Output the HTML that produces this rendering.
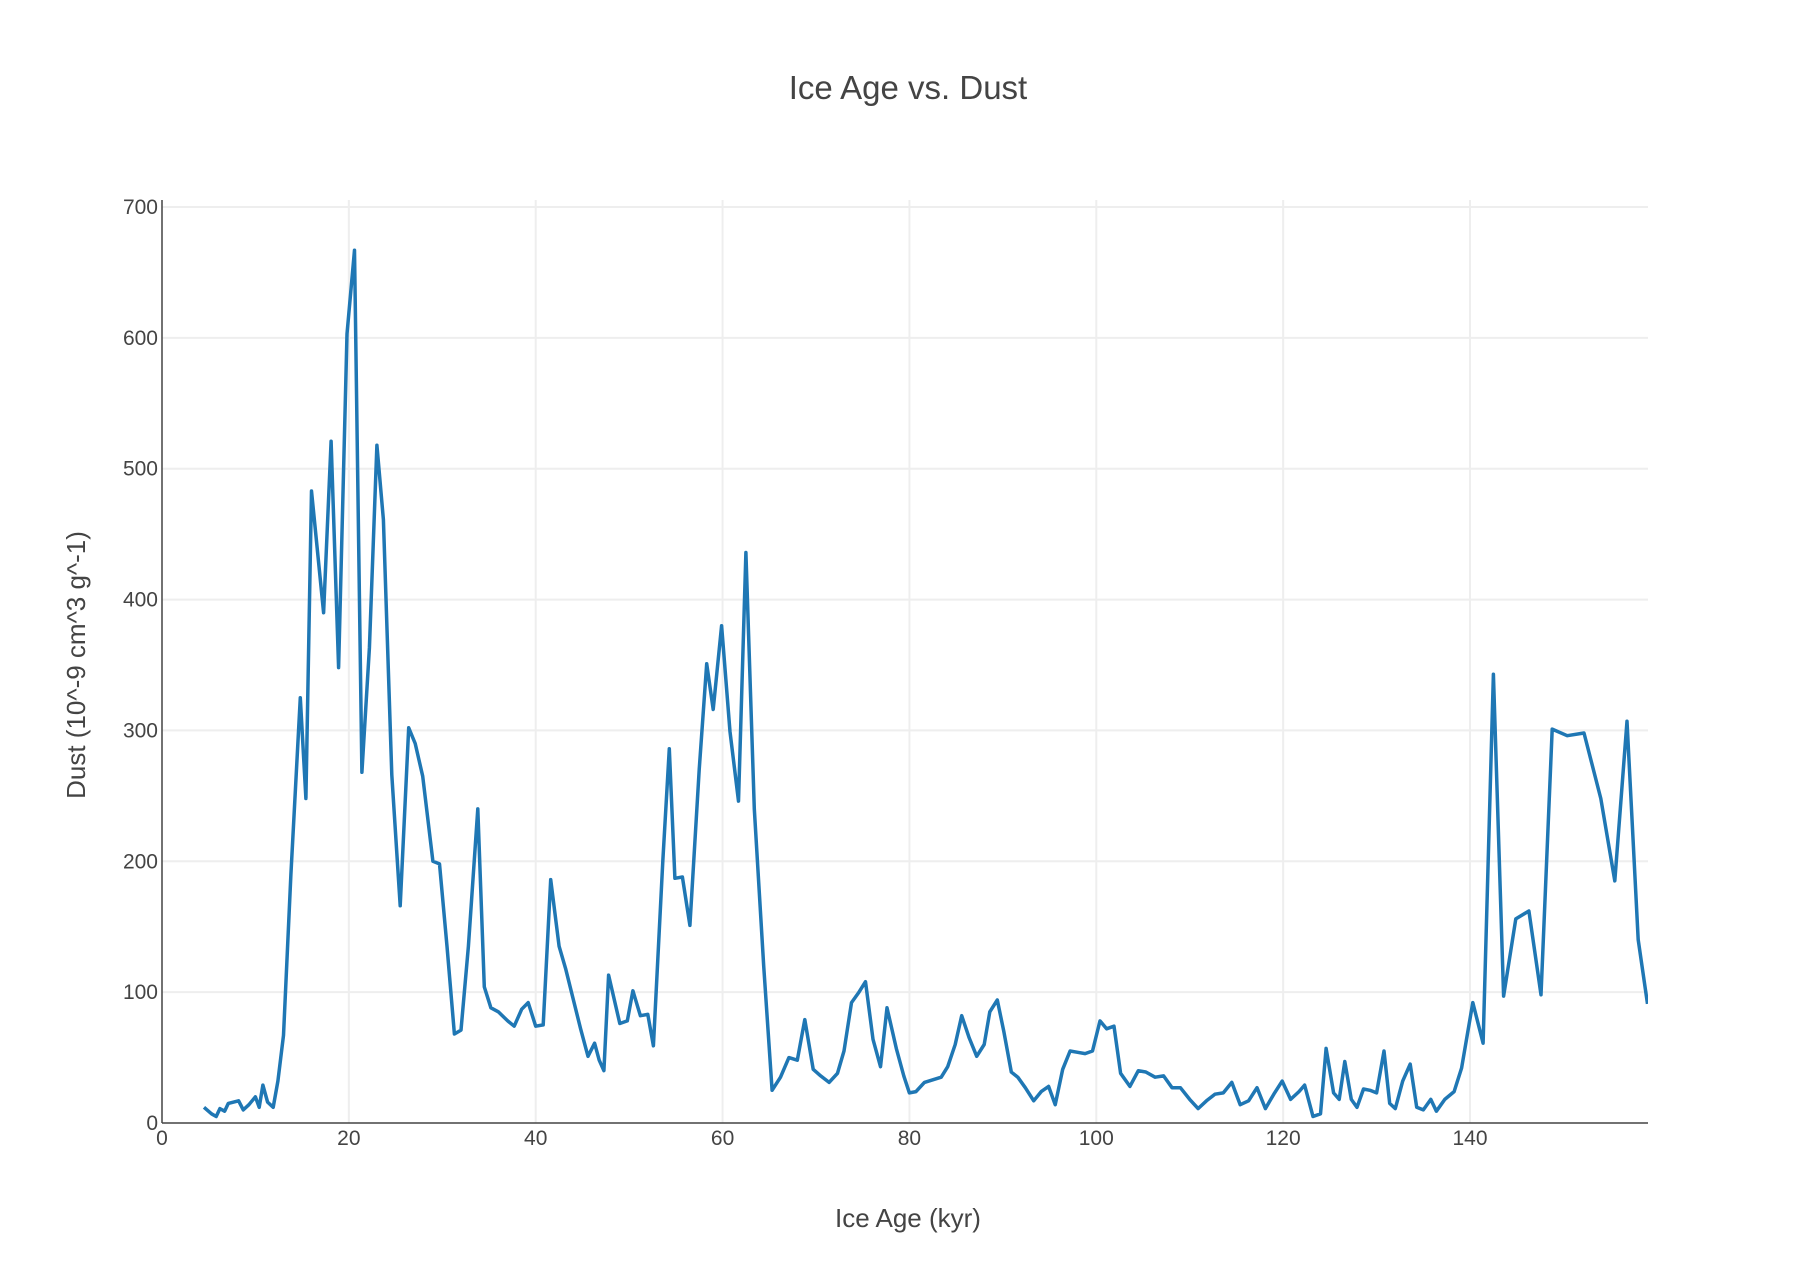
<!DOCTYPE html>
<html><head><meta charset="utf-8"><style>
body{margin:0;background:#fff;}
svg{display:block;font-family:"Liberation Sans",sans-serif;}
</style></head><body>
<svg id="chart" width="1810" height="1284">
<text x="908" y="99" text-anchor="middle" font-size="33" fill="#444">Ice Age vs. Dust</text>
<g id="grid"></g>
<g id="ticks"></g>
<clipPath id="clip"><rect x="162" y="190" width="1486" height="950"/></clipPath>
<path id="line" fill="none" stroke="#1f77b4" stroke-width="3.5" stroke-linejoin="round" clip-path="url(#clip)"/>
<line x1="162" y1="1123" x2="1648" y2="1123" stroke="#444" stroke-width="1.5"/>
<line x1="162" y1="200" x2="162" y2="1123" stroke="#444" stroke-width="1.5"/>
<text x="908" y="1227" text-anchor="middle" font-size="26" fill="#444">Ice Age (kyr)</text>
<text transform="translate(85,665) rotate(-90)" text-anchor="middle" font-size="26" fill="#444">Dust (10^-9 cm^3 g^-1)</text>
</svg>
<script>
const ages=[4.5,5.3,5.8,6.2,6.7,7.1,8.2,8.7,9.3,10.0,10.4,10.8,11.3,11.9,12.4,13.0,13.8,14.8,15.4,16.0,17.3,18.1,18.9,19.8,20.6,21.4,22.2,23.0,23.7,24.6,25.5,26.4,27.1,27.9,29.0,29.7,30.5,31.3,32.0,32.8,33.8,34.5,35.2,36.0,37.0,37.7,38.5,39.2,40.0,40.8,41.6,42.5,43.2,44.0,44.8,45.6,46.3,46.8,47.3,47.8,49.0,49.8,50.4,51.2,52.0,52.6,53.6,54.3,54.9,55.7,56.5,57.5,58.3,59.0,59.9,60.8,61.7,62.5,63.4,64.4,65.3,66.2,67.1,68.0,68.8,69.7,70.5,71.4,72.3,73.0,73.8,74.6,75.3,76.1,76.9,77.6,78.6,79.4,80.0,80.7,81.6,82.5,83.4,84.1,84.9,85.6,86.4,87.2,88.0,88.6,89.4,90.1,90.9,91.6,92.4,93.3,94.1,94.9,95.6,96.4,97.2,98.0,98.8,99.6,100.4,101.1,101.9,102.6,103.6,104.5,105.3,106.3,107.2,108.1,109.0,110.0,110.9,111.8,112.7,113.6,114.5,115.4,116.3,117.2,118.1,119.0,119.9,120.8,121.7,122.3,123.2,124.0,124.6,125.4,126.0,126.6,127.3,127.9,128.6,129.3,130.0,130.8,131.4,132.0,132.8,133.6,134.3,135.0,135.8,136.4,137.3,138.3,139.1,140.3,141.4,142.5,143.6,144.9,146.3,147.6,148.8,150.4,152.2,154.0,155.5,156.8,158.0,159.0];
const dust=[12,7,5,11,9,15,17,10,14,20,12,29,16,12,32,67,190,325,248,483,390,521,348,603,667,268,363,518,461,266,166,302,290,265,200,198,135,68,71,135,240,104,88,85,78,74,87,92,74,75,186,135,118,95,72,51,61,48,40,113,76,78,101,82,83,59,200,286,187,188,151,270,351,316,380,299,246,436,240,120,25,35,50,48,79,41,36,31,38,55,92,100,108,64,43,88,57,36,23,24,31,33,35,43,60,82,65,51,60,85,94,70,39,35,27,17,24,28,14,41,55,54,53,55,78,72,74,38,28,40,39,35,36,27,27,18,11,17,22,23,31,14,17,27,11,22,32,18,24,29,5,7,57,23,18,47,18,12,26,25,23,55,15,11,32,45,12,10,18,9,18,24,42,92,61,343,97,156,162,98,301,296,298,248,185,307,140,91];
const xTicks=[0,20,40,60,80,100,120,140];
const yTicks=[0,100,200,300,400,500,600,700];
const X=v=>162+v*(1470-162)/140;
const Y=v=>1123-v*(1123-207)/700;
const ns="http://www.w3.org/2000/svg";
const grid=document.getElementById('grid'),ticks=document.getElementById('ticks');
xTicks.forEach(t=>{
  if(t>0){const l=document.createElementNS(ns,'line');
  l.setAttribute('x1',X(t));l.setAttribute('x2',X(t));l.setAttribute('y1',200);l.setAttribute('y2',1123);
  l.setAttribute('stroke','#eee');l.setAttribute('stroke-width','2');
  
  
  grid.appendChild(l);}
  const tx=document.createElementNS(ns,'text');
  tx.setAttribute('x',X(t));tx.setAttribute('y',1145);tx.setAttribute('text-anchor','middle');
  tx.setAttribute('font-size','21');tx.setAttribute('fill','#444');tx.textContent=t;
  
  
  ticks.appendChild(tx);
});
yTicks.forEach(t=>{
  if(t>0){const l=document.createElementNS(ns,'line');
  l.setAttribute('x1',162);l.setAttribute('x2',1648);l.setAttribute('y1',Y(t));l.setAttribute('y2',Y(t));
  l.setAttribute('stroke','#eee');l.setAttribute('stroke-width','2');
  
  
  grid.appendChild(l);}
  const tx=document.createElementNS(ns,'text');
  tx.setAttribute('x',158);tx.setAttribute('y',Y(t)+7);tx.setAttribute('text-anchor','end');
  tx.setAttribute('font-size','21');tx.setAttribute('fill','#444');tx.textContent=t;
  
  
  ticks.appendChild(tx);
});
document.getElementById('line').setAttribute('d',ages.map((a,i)=>(i?'L':'M')+X(a).toFixed(1)+','+Y(dust[i]).toFixed(1)).join(''));
</script>
</body></html>
